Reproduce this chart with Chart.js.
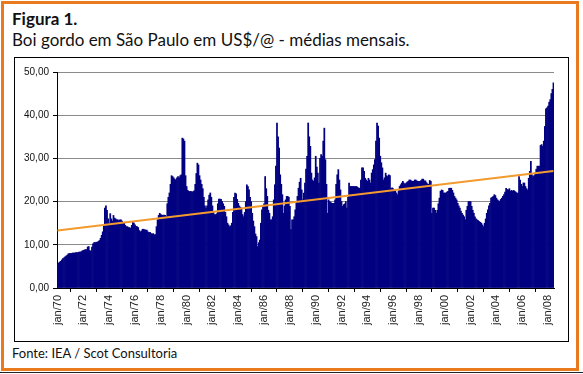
<!DOCTYPE html>
<html lang="pt">
<head>
<meta charset="utf-8">
<script src="https://cdn.jsdelivr.net/npm/chart.js@4"></script>
<style>
  body { margin: 0; width: 583px; height: 374px; background: #fff; position: relative; overflow: hidden; font-family: Lato, sans-serif; }
  .frame { position: absolute; left: 1px; top: 1px; width: 572px; height: 364px; border: 3px solid #ea7a1e; }
  .base { position: absolute; left: 0; top: 372px; width: 583px; height: 1px; background: #222; }
  h1 { position: absolute; left: 12px; top: 8px; margin: 0; font-size: 17px; font-weight: bold; color: #111; }
  h2 { position: absolute; left: 12px; top: 29px; margin: 0; font-size: 17px; font-weight: normal; color: #111; }
  .box { position: absolute; left: 14px; top: 57px; width: 553px; height: 283px; border: 1px solid #000; }
  .note { position: absolute; left: 12px; top: 345px; font-size: 13px; color: #111; }
</style>
</head>
<body>
<div class="frame"></div>
<div class="base"></div>
<h1>Figura 1.</h1>
<h2>Boi gordo em São Paulo em US$/@ - médias mensais.</h2>
<div class="box"><canvas id="chart" width="553" height="283"></canvas></div>
<div class="note">Fonte: IEA / Scot Consultoria</div>
<script>
const monthNames = ['jan','fev','mar','abr','mai','jun','jul','ago','set','out','nov','dez']
const firstYear = 1970
// monthly averages, US$/@, one row per year (1970 .. jun/2008)
const prices = [
  5.5, 5.8, 6.0, 6.2, 6.5, 6.8, 7.0, 7.2, 7.4, 7.6, 7.9, 8.0,
  8.0, 8.0, 8.1, 8.1, 8.1, 8.2, 8.2, 8.2, 8.3, 8.3, 8.4, 8.6,
  8.7, 8.8, 8.9, 8.9, 9.5, 9.6, 8.7, 8.5, 9.5, 10.2, 10.5, 10.5,
  10.6, 10.6, 10.8, 11.0, 11.5, 12.2, 13.0, 14.5, 18.5, 19.0, 18.0, 16.0,
  15.0, 17.2, 16.0, 15.5, 16.8, 16.2, 16.0, 15.8, 15.8, 15.6, 15.8, 15.8,
  15.5, 15.0, 15.0, 14.5, 14.2, 14.2, 14.0, 14.0, 13.8, 14.5, 15.2, 15.0,
  14.6, 14.3, 14.2, 14.0, 13.3, 13.0, 13.2, 13.6, 13.6, 13.5, 13.4, 13.4,
  13.0, 12.8, 12.9, 12.6, 12.5, 12.6, 12.3, 12.4, 14.2, 15.8, 16.8, 17.3,
  17.0, 16.9, 16.8, 16.9, 16.8, 16.5, 19.5, 21.0, 22.0, 24.0, 26.0, 25.8,
  25.5, 25.2, 25.0, 25.5, 25.8, 25.5, 26.0, 26.2, 34.7, 34.5, 34.0, 26.0,
  23.5, 22.6, 22.4, 22.3, 22.4, 22.2, 22.3, 22.5, 24.0, 26.5, 28.9, 28.5,
  26.0, 25.0, 24.0, 23.0, 21.0, 19.0, 18.5, 19.0, 20.4, 21.5, 22.0, 21.0,
  19.0, 17.5, 17.0, 17.0, 17.2, 19.5, 20.6, 20.6, 20.5, 20.0, 19.5, 18.9,
  17.5, 16.5, 15.0, 14.6, 14.2, 14.4, 15.0, 17.5, 21.0, 22.0, 21.8, 20.5,
  19.6, 19.0, 18.7, 18.5, 17.0, 16.5, 17.5, 20.0, 23.9, 23.5, 22.7, 21.0,
  20.0, 17.3, 15.5, 14.2, 12.5, 11.9, 9.6, 10.5, 11.1, 15.0, 18.1, 18.9,
  19.5, 25.8, 23.0, 21.2, 18.0, 17.3, 15.8, 15.8, 16.5, 20.4, 23.9, 28.2,
  38.2, 35.0, 32.4, 26.2, 24.0, 21.6, 17.3, 19.0, 20.4, 21.2, 21.2, 21.0,
  18.9, 13.5, 15.8, 15.8, 16.5, 18.1, 20.0, 21.2, 23.1, 24.5, 25.4, 22.7,
  20.4, 22.0, 24.3, 27.5, 30.5, 38.2, 35.0, 32.8, 26.6, 25.0, 24.7, 25.5,
  30.5, 28.0, 26.6, 24.3, 30.0, 30.9, 30.5, 34.0, 37.0, 29.7, 24.0, 17.3,
  20.4, 20.0, 19.8, 19.6, 19.6, 19.6, 20.4, 24.0, 26.2, 27.4, 25.0, 22.7,
  20.0, 18.9, 19.3, 19.5, 20.0, 18.5, 21.0, 24.3, 23.5, 23.5, 23.5, 23.5,
  23.5, 23.5, 23.5, 23.3, 23.1, 23.1, 25.0, 27.8, 27.8, 27.0, 25.4, 25.0,
  24.7, 25.4, 25.0, 24.3, 26.6, 27.4, 28.5, 29.7, 34.0, 38.2, 37.5, 34.7,
  30.5, 29.0, 27.8, 25.0, 25.5, 26.6, 26.0, 25.8, 26.2, 26.0, 23.1, 23.2,
  23.0, 22.7, 22.4, 22.0, 21.6, 22.5, 23.5, 23.9, 24.3, 24.7, 24.3, 24.0,
  24.3, 24.5, 24.7, 25.0, 25.0, 24.8, 24.7, 24.7, 25.0, 25.0, 24.8, 24.7,
  24.7, 24.7, 24.9, 25.2, 25.2, 24.8, 24.8, 24.4, 24.1, 24.0, 24.9, 24.7,
  17.3, 18.5, 18.5, 18.0, 17.3, 18.0, 19.5, 20.8, 22.4, 22.7, 22.6, 22.0,
  22.0, 22.0, 22.2, 22.4, 23.1, 23.1, 23.1, 22.6, 22.0, 21.2, 20.8, 20.4,
  19.6, 19.0, 18.5, 17.8, 17.3, 16.9, 16.5, 15.8, 18.0, 18.9, 20.0, 20.0,
  20.0, 18.9, 18.0, 17.3, 16.5, 16.0, 15.8, 15.6, 15.4, 15.2, 15.0, 14.6,
  14.2, 15.0, 16.0, 17.3, 18.1, 19.0, 19.6, 20.8, 21.0, 21.2, 21.6, 21.4,
  20.8, 20.4, 20.2, 20.0, 20.5, 20.8, 21.2, 21.6, 22.2, 23.1, 22.8, 22.7,
  23.0, 22.4, 22.6, 22.4, 22.6, 22.4, 22.2, 22.0, 22.0, 25.8, 25.0, 24.0,
  23.5, 24.3, 24.3, 23.5, 23.0, 22.7, 25.4, 27.0, 29.3, 26.2, 25.8, 26.0,
  26.6, 27.5, 28.2, 28.2, 28.2, 33.0, 33.2, 32.8, 34.0, 37.4, 41.5, 41.7,
  42.1, 43.0, 43.6, 45.0, 46.0, 47.5
]
// linear trend, value at first and last month
const trendEnds = [13.3, 27.1]
const yTicks = [0, 10, 20, 30, 40, 50]

const labels = prices.map((v, i) => monthNames[i % 12] + '/' + String((firstYear + Math.floor(i / 12)) % 100).padStart(2, '0'))

new Chart(document.getElementById('chart'), {
  type: 'bar',
  data: {
    labels,
    datasets: [
      { type: 'line', data: [{ x: labels[0], y: trendEnds[0] }, { x: labels[labels.length - 1], y: trendEnds[1] }],
        borderColor: '#f29a2e', borderWidth: 2, pointRadius: 0, order: 1 },
      { data: prices, backgroundColor: '#000080', borderWidth: 0,
        barPercentage: 1, categoryPercentage: 1, order: 2 }
    ]
  },
  options: {
    responsive: false,
    animation: false,
    devicePixelRatio: 1,
    layout: { padding: { top: 14, right: 14 } },
    plugins: { legend: { display: false }, tooltip: { enabled: false } },
    scales: {
      x: {
        afterFit: s => { s.height = 53 },
        grid: { drawOnChartArea: false, tickLength: 4, tickColor: '#000', offset: true },
        border: { color: '#000' },
        ticks: {
          autoSkip: false, minRotation: 90, maxRotation: 90, padding: 3,
          font: { family: 'Liberation Sans', size: 11 }, color: '#222',
          callback: (v, i) => i % 24 === 0 ? labels[i] : null
        }
      },
      y: {
        min: 0, max: 50,
        afterFit: s => { s.width = 42 },
        afterBuildTicks: s => { s.ticks = yTicks.map(v => ({ value: v })) },
        grid: { color: '#8a8a8a', tickLength: 4, tickColor: '#000' },
        border: { color: '#000' },
        ticks: {
          padding: 4, font: { family: 'Liberation Sans', size: 10 }, color: '#111',
          callback: v => v.toFixed(2).replace('.', ',')
        }
      }
    }
  }
})
</script>
</body>
</html>
